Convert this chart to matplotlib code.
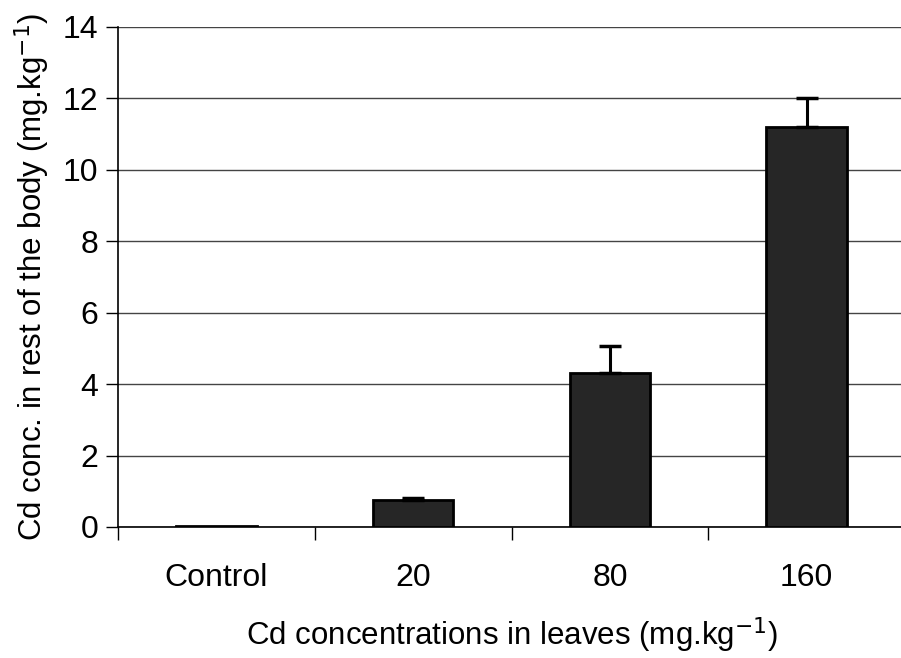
import matplotlib.pyplot as plt
import numpy as np

plt.rcParams['font.family'] = ['Liberation Sans', 'DejaVu Sans']

groups = ['Control', '20', '80', '160']
cd_body = [0.02, 0.76, 4.31, 11.2]
cd_err = [0.0, 0.05, 0.76, 0.82]

fig = plt.figure(figsize=(9.01, 6.58), dpi=100)
# right edge of the axes sits just past the picture, as in the original
ax = fig.add_axes([118/901, 1 - 527/658, (905 - 118)/901, (527 - 27)/658])

x = np.arange(len(groups))
ax.bar(x, cd_body, width=0.41, color='#262626', edgecolor='black', linewidth=2, zorder=3)
ax.errorbar(x[1:], cd_body[1:], yerr=[np.zeros(3), cd_err[1:]], fmt='none',
            ecolor='black', elinewidth=2.2, capsize=8, capthick=2.5, zorder=4)

ax.set_xlim(-0.5, 3.5)
ax.set_ylim(0, 14)
ax.set_yticks(np.arange(0, 15, 2))
ax.yaxis.grid(True, color='#444444', linewidth=1)
ax.set_axisbelow(True)

ax.set_xticks(np.arange(-0.5, 4, 1), minor=False)
ax.set_xticklabels([])
ax.set_xticks(x, minor=True)
ax.set_xticklabels(groups, minor=True)
ax.tick_params(axis='x', which='major', direction='out', length=9, width=1)
ax.tick_params(axis='x', which='minor', length=0, pad=26, labelsize=23)
ax.tick_params(axis='y', direction='out', length=9, width=1, labelsize=23, pad=5)

for side in ['top', 'right']:
    ax.spines[side].set_visible(False)
ax.spines['left'].set_linewidth(1.2)
ax.spines['bottom'].set_linewidth(1.2)

ax.set_xlabel('Cd concentrations in leaves (mg.kg$^{-1}$)', fontsize=22.5, labelpad=16)
ax.set_ylabel('Cd conc. in rest of the body (mg.kg$^{-1}$)', fontsize=22.5, labelpad=8)

fig.savefig('out.png', dpi=100)
